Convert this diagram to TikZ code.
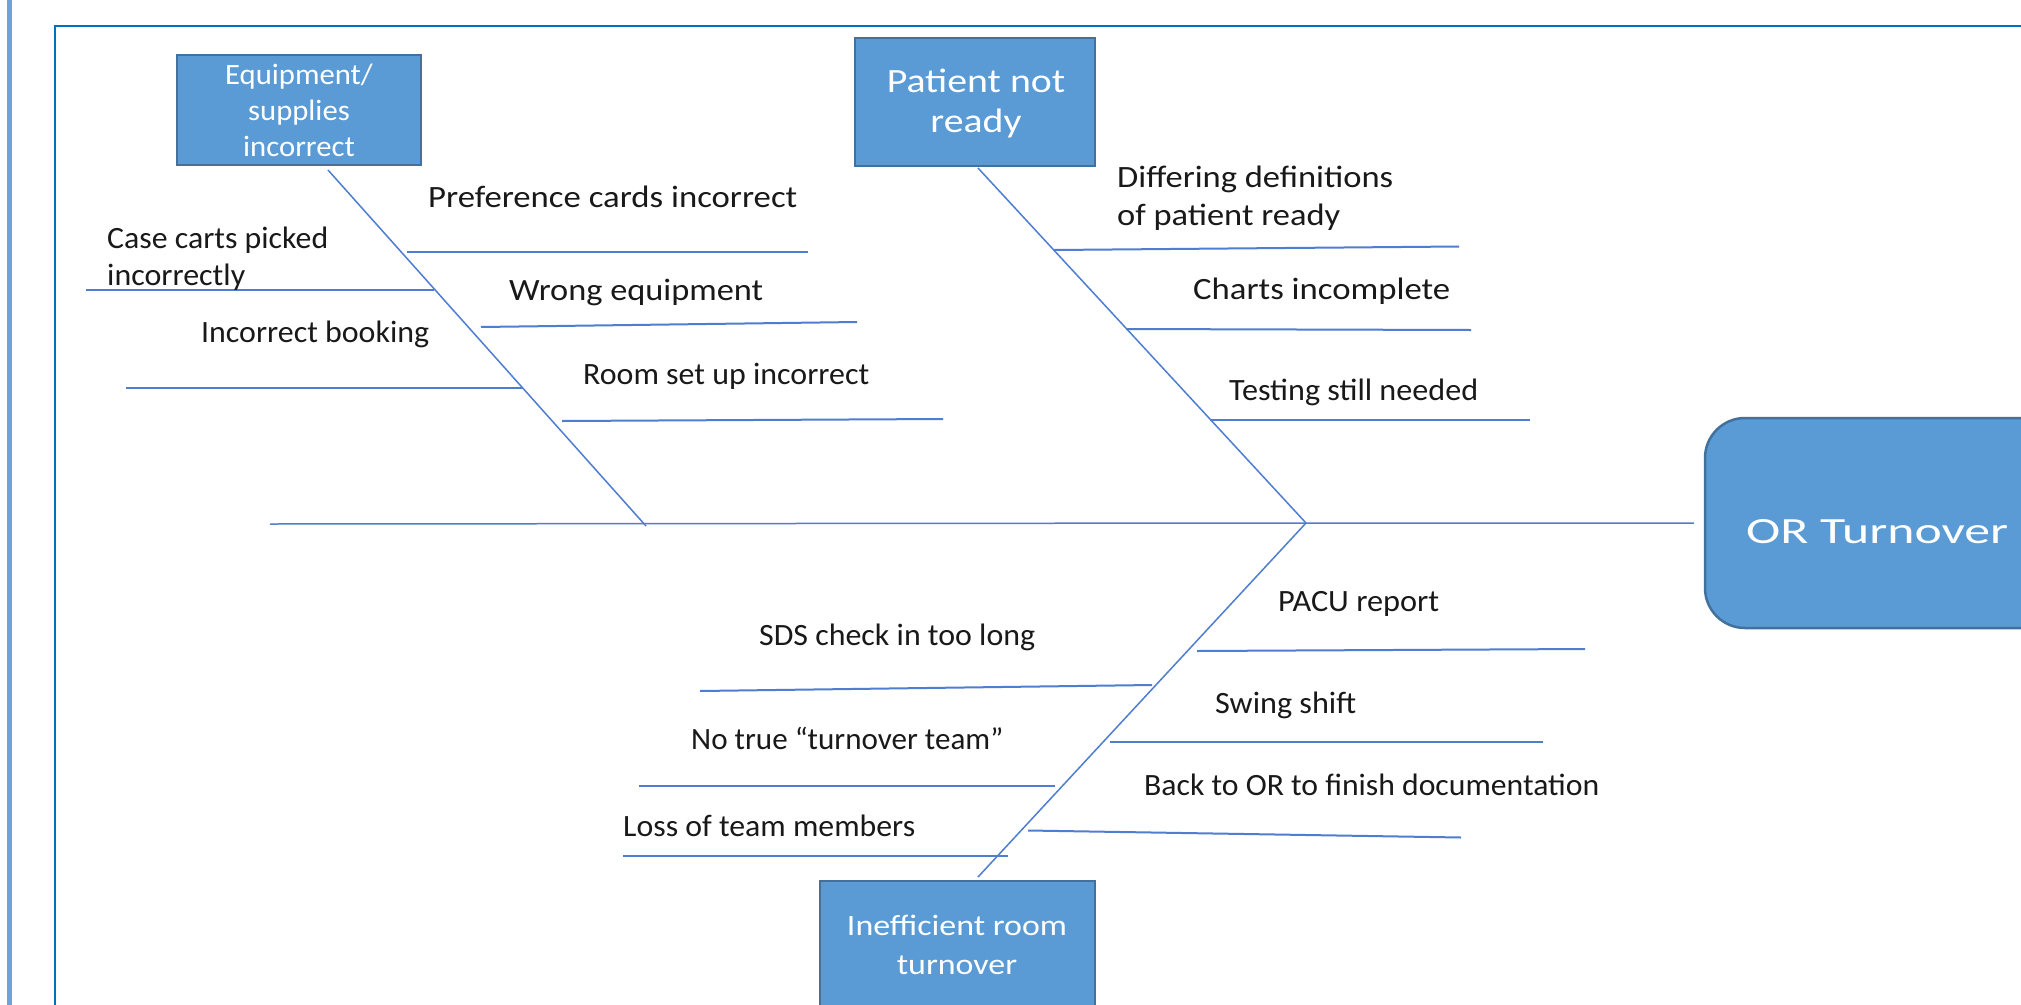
\documentclass[tikz,border=0pt]{standalone}
\usepackage{fontspec}
\setmainfont{Carlito}
\usepackage{graphicx}
\definecolor{boxfill}{HTML}{5B9BD5}
\definecolor{boxline}{HTML}{41719C}
\definecolor{boneblue}{HTML}{4F7DD0}
\definecolor{frameblue}{HTML}{0070C0}
\definecolor{barblue}{HTML}{6AA4DA}
\newcommand{\fw}[2]{\resizebox{#1pt}{\height}{#2}}
\newcommand{\sx}[2]{\scalebox{#1}[1]{#2}}
\begin{document}
\begin{tikzpicture}[x=1pt,y=-1pt,
  catbox/.style={draw=boxline, fill=boxfill, line width=2.5pt, inner sep=0pt},
  bonel/.style={draw=boneblue, line width=1.5pt},
  ribl/.style={draw=boneblue, line width=2pt},
  lbl/.style={anchor=base west, inner sep=0pt, font=\fontsize{31}{37}\selectfont, text=black!90},
  boxtxt/.style={anchor=base, inner sep=0pt, text=white},
]
\useasboundingbox (0,0) rectangle (2021,1004);
\fill[white] (0,0) rectangle (2021,1004);
% frames
\draw[barblue, line width=5pt] (9.5,-5) -- (9.5,1010);
\draw[frameblue, line width=2pt] (54.7,1010) -- (54.7,25.5) -- (2030,25.5);

% category boxes
\node[catbox, minimum width=244pt, minimum height=110pt] (eq) at (299,110) {};
\node[catbox, minimum width=240pt, minimum height=128pt] (pt) at (975,102) {};
\node[catbox, minimum width=275pt, minimum height=200pt] (ineff) at (957.5,981) {};
\node[catbox, rounded corners=40pt, minimum width=400pt, minimum height=210pt] (orb) at (1905,523) {};

% box texts
\begin{scope}[every node/.style={boxtxt}]
\node[font=\fontsize{29.5}{36}\selectfont] (eq1) at (299,84) {\sx{1.04}{Equipment/}};
\node[font=\fontsize{29.5}{36}\selectfont] (eq2) at (299,120) {\sx{1.04}{supplies}};
\node[font=\fontsize{29.5}{36}\selectfont] (eq3) at (299,156) {\sx{1.04}{incorrect}};
\node[font=\fontsize{34}{40}\selectfont] (pt1) at (976,92) {\sx{1.17}{Patient not}};
\node[font=\fontsize{34}{40}\selectfont] (pt2) at (976,132) {\sx{1.17}{ready}};
\node[font=\fontsize{29.5}{38}\selectfont] (in1) at (957,935) {\sx{1.15}{Inefficient room}};
\node[font=\fontsize{29.5}{38}\selectfont] (in2) at (957,974) {\sx{1.15}{turnover}};
\node[font=\fontsize{37}{44}\selectfont, anchor=base west] (ort) at (1746,543) {\fw{262}{OR Turnover}};
\end{scope}

% spine and bones
\coordinate (spL) at (270,524);
\coordinate (jA) at (646,526);
\coordinate (jB) at (1306,523);
\coordinate (eqB) at (328,170);
\coordinate (ptB) at (978,168);
\coordinate (inB) at (978,877);
\draw[bonel] (spL) -- (jB) -- ([xshift=-10pt]orb.west);
\draw[bonel] (eqB) -- (jA);
\draw[bonel] (ptB) -- (jB);
\draw[bonel] (jB) -- (inB);

% ribs
\coordinate (r1a) at (407,251.5);  \coordinate (r1b) at (808,251.5);
\coordinate (r2a) at (86,290);     \coordinate (r2b) at (434,290);
\coordinate (r3a) at (481,327);    \coordinate (r3b) at (857,322);
\coordinate (r4a) at (126,388);    \coordinate (r4b) at (523,388);
\coordinate (r5a) at (562,421);    \coordinate (r5b) at (943,419);
\coordinate (r6a) at (1054,250);   \coordinate (r6b) at (1459,246.5);
\coordinate (r7a) at (1126,329);   \coordinate (r7b) at (1471,330);
\coordinate (r8a) at (1210,420);   \coordinate (r8b) at (1530,420);
\coordinate (r9a) at (1197,651);   \coordinate (r9b) at (1585,649);
\coordinate (r10a) at (700,691);   \coordinate (r10b) at (1152,685);
\coordinate (r11a) at (1110,742);  \coordinate (r11b) at (1543,742);
\coordinate (r12a) at (639,786);   \coordinate (r12b) at (1055,786);
\coordinate (r13a) at (1028,830.5);\coordinate (r13b) at (1461,837.5);
\coordinate (r14a) at (623,855.5); \coordinate (r14b) at (1008,855.5);
\foreach \i in {1,...,14}{\draw[ribl] (r\i a) -- (r\i b);}

% labels
\node[lbl] (lA)  at (428,207) {\fw{369}{Preference cards incorrect}};
\node[lbl] (lB1) at (107,248) {\fw{221}{Case carts picked}};
\node[lbl] (lB2) at (107,285) {\fw{138}{incorrectly}};
\node[lbl] (lC)  at (509,300) {\fw{254}{Wrong equipment}};
\node[lbl] (lD)  at (201,342) {\fw{228}{Incorrect booking}};
\node[lbl] (lE)  at (583,384) {\fw{286}{Room set up incorrect}};
\node[lbl] (lF1) at (1117,187) {\fw{276}{Differing definitions}};
\node[lbl] (lF2) at (1117,225) {\fw{223}{of patient ready}};
\node[lbl] (lG)  at (1193,299) {\fw{257}{Charts incomplete}};
\node[lbl] (lH)  at (1229,400) {\fw{249}{Testing still needed}};
\node[lbl] (lI)  at (1278,611) {\fw{161}{PACU report}};
\node[lbl] (lJ)  at (759,645) {\fw{276}{SDS check in too long}};
\node[lbl] (lK)  at (1215,713) {\fw{141}{Swing shift}};
\node[lbl] (lL)  at (691,749) {\fw{312}{No true “turnover team”}};
\node[lbl] (lM)  at (1144,795) {\fw{455}{Back to OR to finish documentation}};
\node[lbl] (lN)  at (623,836) {\fw{292}{Loss of team members}};
\end{tikzpicture}
\end{document}
